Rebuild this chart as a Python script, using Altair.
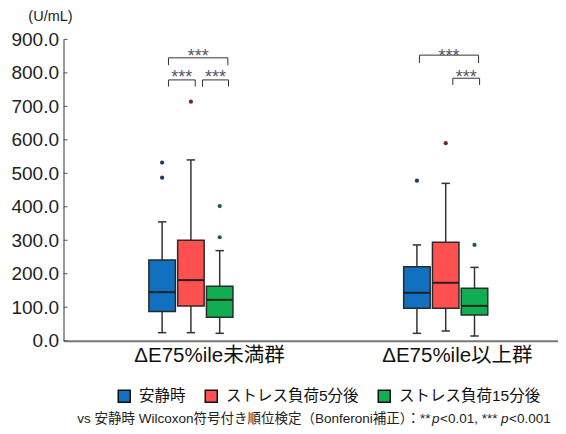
import altair as alt
import pandas as pd

# ---------------- data ----------------
groups = ["ΔE75%ile未満群", "ΔE75%ile以上群"]
series = ["安静時", "ストレス負荷5分後", "ストレス負荷15分後"]

# group-major order: group1 (blue, red, green), group2 (blue, red, green)
whisker_low = [24, 24, 22, 22, 29, 14]
q1 = [87, 104, 70, 97, 97, 77]
median = [145, 181, 122, 143, 173, 104]
q3 = [241, 300, 163, 221, 294, 157]
whisker_high = [355, 540, 269, 286, 470, 219]

outlier_group = [0, 0, 0, 0, 0, 1, 1, 1]
outlier_series = [0, 0, 1, 2, 2, 0, 1, 2]
outlier_value = [532, 487, 714, 402, 309, 478, 590, 286]

# significance brackets
bracket_group = [0, 0, 0, 1, 1]
bracket_label = ["***", "***", "***", "***", "***"]
bracket_top = [845, 779, 779, 853, 784]
bracket_end = [823, 759, 759, 829, 764]
bracket_star = [863, 800, 800, 863, 799]

y_ticks = [0, 100, 200, 300, 400, 500, 600, 700, 800, 900]

footnote_parts = ["vs 安静時  Wilcoxon符号付き順位検定（Bonferoni補正）：**", "p", "<0.01,  ***", "p", "<0.001"]

# ---------------- layout / style ----------------
FONT = "Liberation Sans, Noto Sans CJK JP, sans-serif"
fill_colors = ["#1170C0", "#FF5050", "#10AE50"]
dot_colors = ["#1F3A66", "#7A2525", "#1F5E3A"]
series_offset = [-0.113, 0.0, 0.113]
box_half = 0.052
cap_half = 0.0165
bracket_x1 = [-0.088, -0.088, 0.0455, -0.103, 0.028]
bracket_x2 = [0.145, 0.017, 0.1476, 0.129, 0.133]
label_pos = [1.071, 2.044]
foot_px = [13.8, 368.5, 376.5, 437.5, 445.5]
foot_italic = [False, True, False, True, False]

rows = []
for gi, g in enumerate(groups):
    for si, s in enumerate(series):
        i = gi * 3 + si
        c = gi + 1 + series_offset[si]
        rows.append(dict(group=g, series=s, center=c, left=c - box_half, right=c + box_half,
                         capl=c - cap_half, capr=c + cap_half,
                         lo=whisker_low[i], q1=q1[i], med=median[i], q3=q3[i], hi=whisker_high[i]))
box_df = pd.DataFrame(rows)

out_df = pd.DataFrame(dict(
    series=[series[s] for s in outlier_series],
    x=[outlier_group[i] + 1 + series_offset[outlier_series[i]] for i in range(len(outlier_value))],
    value=outlier_value,
))

br_df = pd.DataFrame(dict(
    x1=[bracket_group[i] + 1 + bracket_x1[i] for i in range(len(bracket_group))],
    x2=[bracket_group[i] + 1 + bracket_x2[i] for i in range(len(bracket_group))],
    top=bracket_top, end=bracket_end, star=bracket_star, label=bracket_label,
))
br_df["xm"] = (br_df["x1"] + br_df["x2"]) / 2

tick_df = pd.DataFrame(dict(v=y_ticks))
foot_df = pd.DataFrame(dict(text=footnote_parts, px=foot_px, italic=foot_italic))

xscale = alt.Scale(domain=[0.5, 2.4407], nice=False, zero=False)
yscale = alt.Scale(domain=[0, 900], nice=False, zero=True)

x_axis = alt.Axis(values=label_pos, ticks=False, grid=False,
                  labelExpr="datum.value < 1.5 ? 'ΔE75%ile未満群' : 'ΔE75%ile以上群'",
                  labelFontSize=20.5, labelPadding=5, labelColor="#111", labelFont=FONT,
                  domainColor="#777", domainWidth=2, title=None)
y_axis = alt.Axis(values=y_ticks, format=".1f", ticks=False, grid=False,
                  labelFontSize=19, labelPadding=5, labelColor="#222", labelFont=FONT,
                  domainColor="#555", domainWidth=1.2,
                  title="(U/mL)", titleAngle=0, titleX=-13.5, titleY=-23,
                  titleAlign="center", titleBaseline="middle", titleFontSize=14.5,
                  titleFontWeight="normal", titleColor="#222", titleFont=FONT)

base = alt.Chart(box_df)

whisker = base.mark_rule(color="#333", strokeWidth=1.5).encode(
    x=alt.X("center:Q", scale=xscale, axis=x_axis),
    y=alt.Y("lo:Q", scale=yscale, axis=y_axis),
    y2="hi:Q",
)
cap_lo = base.mark_rule(color="#333", strokeWidth=1.5).encode(
    x=alt.X("capl:Q", scale=xscale, axis=x_axis), x2="capr:Q",
    y=alt.Y("lo:Q", scale=yscale, axis=y_axis),
)
cap_hi = base.mark_rule(color="#333", strokeWidth=1.5).encode(
    x=alt.X("capl:Q", scale=xscale, axis=x_axis), x2="capr:Q",
    y=alt.Y("hi:Q", scale=yscale, axis=y_axis),
)
box = base.mark_rect(stroke="#2a2a2a", strokeWidth=1.5).encode(
    x=alt.X("left:Q", scale=xscale, axis=x_axis), x2="right:Q",
    y=alt.Y("q1:Q", scale=yscale, axis=y_axis), y2="q3:Q",
    color=alt.Color("series:N", scale=alt.Scale(domain=series, range=fill_colors),
                    sort=series,
                    legend=alt.Legend(orient="none", legendX=53, legendY=349,
                                      direction="horizontal", title=None,
                                      symbolType="square", symbolSize=144,
                                      symbolStrokeColor="#111", symbolStrokeWidth=1.5,
                                      labelFontSize=15.5, labelFont=FONT, labelColor="#111",
                                      labelOffset=7, columnPadding=15, padding=0)),
)
med = base.mark_rule(color="#222", strokeWidth=2).encode(
    x=alt.X("left:Q", scale=xscale, axis=x_axis), x2="right:Q",
    y=alt.Y("med:Q", scale=yscale, axis=y_axis),
)
dots = alt.Chart(out_df).mark_circle(size=18, opacity=1).encode(
    x=alt.X("x:Q", scale=xscale, axis=x_axis),
    y=alt.Y("value:Q", scale=yscale, axis=y_axis),
    fill=alt.Fill("series:N", scale=alt.Scale(domain=series, range=dot_colors), legend=None),
)
inner_ticks = alt.Chart(tick_df).mark_rule(color="#555", strokeWidth=1).encode(
    x=alt.value(0), x2=alt.value(4),
    y=alt.Y("v:Q", scale=yscale, axis=y_axis),
)
br_h = alt.Chart(br_df).mark_rule(color="#333", strokeWidth=1).encode(
    x=alt.X("x1:Q", scale=xscale, axis=x_axis), x2="x2:Q",
    y=alt.Y("top:Q", scale=yscale, axis=y_axis),
)
br_l = alt.Chart(br_df).mark_rule(color="#333", strokeWidth=1).encode(
    x=alt.X("x1:Q", scale=xscale, axis=x_axis),
    y=alt.Y("top:Q", scale=yscale, axis=y_axis), y2="end:Q",
)
br_r = alt.Chart(br_df).mark_rule(color="#333", strokeWidth=1).encode(
    x=alt.X("x2:Q", scale=xscale, axis=x_axis),
    y=alt.Y("top:Q", scale=yscale, axis=y_axis), y2="end:Q",
)
stars = alt.Chart(br_df).mark_text(fontSize=18, color="#556", font=FONT,
                                   baseline="alphabetic", dy=10).encode(
    x=alt.X("xm:Q", scale=xscale, axis=x_axis),
    y=alt.Y("star:Q", scale=yscale, axis=y_axis),
    text="label:N",
)
foot_normal = alt.Chart(foot_df).transform_filter("!datum.italic").mark_text(
    fontSize=13.5, color="#222", font=FONT, align="left", baseline="middle").encode(
    x=alt.X("px:Q", scale=None), y=alt.value(379.6), text="text:N")
foot_italic_l = alt.Chart(foot_df).transform_filter("datum.italic").mark_text(
    fontSize=13.5, color="#222", font=FONT, align="left", baseline="middle",
    fontStyle="italic").encode(
    x=alt.X("px:Q", scale=None), y=alt.value(379.6), text="text:N")

chart = alt.layer(
    inner_ticks, whisker, cap_lo, cap_hi, box, med, dots, br_h, br_l, br_r, stars,
    foot_normal, foot_italic_l,
).properties(
    width=494.5, height=301.3,
    padding={"left": 55.5, "top": 31.4, "right": 0, "bottom": 85.3},
    autosize=alt.AutoSizeParams(type="none"),
).configure(font=FONT).configure_view(stroke=None)

chart.save("out.html", embed_options={"renderer": "svg", "actions": False})
